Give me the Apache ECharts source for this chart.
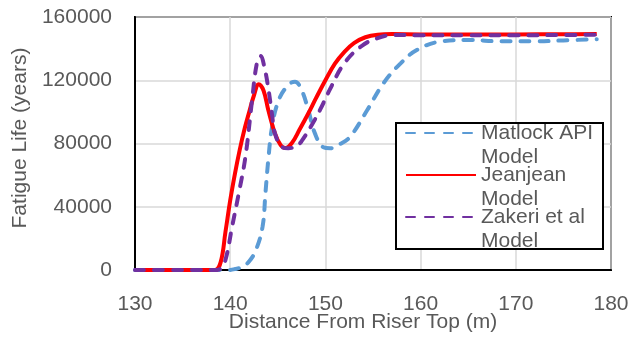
<!DOCTYPE html>
<html>
<head>
<meta charset="utf-8">
<script src="https://cdn.jsdelivr.net/npm/echarts@6/dist/echarts.min.js"></script>
<style>
    html, body { margin: 0; padding: 0; background: #fff; }
    #chart { width: 629px; height: 337px; }
</style>
</head>
<body>
<div id="chart"></div>
<script>
const xTicks = [130, 140, 150, 160, 170, 180];
const yTicks = [0, 40000, 80000, 120000, 160000];

const seriesNames = ['Matlock API Model', 'Jeanjean Model', 'Zakeri et al Model'];

const matlockX = [130, 135, 139.8, 140.5, 141.3, 142.0, 142.7, 143.4, 143.7, 144.0, 144.4, 145.1, 146.1, 146.8, 147.5, 148.2, 148.9, 149.8, 150.5, 151.5, 152.6, 154.4, 156.1, 157.9, 159.6, 162.0, 165.0, 168.5, 172.0, 175.0, 178.5];
const matlockY = [0, 0, 0, 600, 2100, 5500, 12600, 27400, 48500, 69600, 90600, 107500, 117000, 119100, 113800, 101200, 86400, 77600, 77000, 79500, 84300, 101200, 118100, 130700, 139100, 144400, 145500, 144600, 144600, 145200, 146000];

const jeanjeanX = [130, 135, 138.4, 139.0, 139.5, 140.0, 140.5, 141.0, 141.5, 142.0, 142.5, 143.0, 143.5, 144.0, 144.7, 145.3, 145.8, 146.5, 147.3, 148.2, 149.0, 150.0, 151.0, 152.0, 153.0, 154.2, 155.5, 157.0, 160, 165, 170, 175, 178.5];
const jeanjeanY = [0, 0, 0, 5000, 24000, 44000, 61000, 76000, 89000, 100000, 110500, 117500, 113500, 101200, 86400, 79000, 77200, 80500, 89000, 99000, 108500, 120000, 130500, 138000, 143500, 147200, 148800, 149200, 149000, 149000, 149000, 149100, 149200];

const zakeriX = [130, 135, 138.6, 139.0, 139.5, 140.2, 140.9, 141.6, 142.3, 142.8, 143.2, 143.6, 144.0, 144.4, 144.7, 145.4, 146.1, 147.0, 147.5, 148.6, 149.5, 150.5, 151.9, 153.7, 155.4, 157.2, 160, 165, 170, 175, 178.5];
const zakeriY = [0, 0, 0, 1000, 6300, 27400, 48500, 71600, 107500, 130700, 135300, 128000, 115000, 98000, 86400, 78000, 77000, 78500, 81500, 92000, 102000, 114500, 130000, 141200, 146500, 148600, 148500, 148500, 148500, 148600, 148800];

const pairs = (xs, ys) => xs.map((x, i) => [x, ys[i]]);

const textColor = '#595959';
const fontFamily = '"Liberation Sans", Arial, sans-serif';

const chart = echarts.init(document.getElementById('chart'));

const dashed = (color) => ({
    color: color,
    width: 4,
    type: [9, 10],
    cap: 'round',
});

chart.setOption({
    animation: false,
    textStyle: {
        fontFamily: fontFamily,
        color: textColor,
    },
    grid: {
        left: 135,
        right: 18,
        top: 17,
        bottom: 67,
        outerBoundsMode: 'none',
        containLabel: false,
        show: true,
        borderColor: '#000',
        borderWidth: 2,
    },
    graphic: [{
        type: 'rect',
        z: 3,
        shape: { x: 396, y: 123, width: 207, height: 126 },
        style: { fill: '#fff', stroke: '#000', lineWidth: 2 },
    }],
    legend: {
        orient: 'vertical',
        left: 405,
        top: 97,
        padding: 0,
        itemGap: -30,
        itemWidth: 70,
        itemHeight: 1,
        itemStyle: { opacity: 0 },
        selectedMode: false,
        data: seriesNames,
        formatter: (name) => '\n' + name.replace(/ Model$/, '\nModel'),
        textStyle: {
            fontFamily: fontFamily,
            fontSize: 21,
            color: textColor,
            lineHeight: 24,
        },
    },
    xAxis: {
        type: 'value',
        min: xTicks[0],
        max: xTicks[xTicks.length - 1],
        interval: xTicks[1] - xTicks[0],
        name: 'Distance From Riser Top (m)',
        nameLocation: 'middle',
        nameGap: 42,
        nameMoveOverlap: false,
        nameTextStyle: {
            fontSize: 21,
            color: textColor,
            fontFamily: fontFamily,
            padding: [0, 20, 0, 0],
        },
        axisLine: { lineStyle: { color: '#000', width: 2 } },
        axisTick: { show: false },
        axisLabel: {
            fontSize: 21,
            color: textColor,
            margin: 24,
        },
        splitLine: { lineStyle: { color: '#d9d9d9', width: 1.5 } },
    },
    yAxis: {
        type: 'value',
        min: yTicks[0],
        max: yTicks[yTicks.length - 1],
        interval: yTicks[1] - yTicks[0],
        name: 'Fatigue Life (years)',
        nameLocation: 'middle',
        nameGap: 104,
        nameMoveOverlap: false,
        nameTextStyle: {
            fontSize: 21,
            color: textColor,
            fontFamily: fontFamily,
            padding: [0, 0, 0, 11],
        },
        axisLine: { show: true, lineStyle: { color: '#000', width: 2 } },
        axisTick: { show: false },
        axisLabel: {
            fontSize: 21,
            color: textColor,
            margin: 23,
            formatter: (v) => String(v),
        },
        splitLine: { lineStyle: { color: '#d9d9d9', width: 1.5 } },
    },
    series: [
        {
            name: seriesNames[0],
            type: 'line',
            data: pairs(matlockX, matlockY),
            smooth: 0.4,
            showSymbol: false,
            symbol: 'none',
            lineStyle: dashed('#5b9bd5'),
            itemStyle: { color: '#5b9bd5' },
            z: 2,
        },
        {
            name: seriesNames[1],
            type: 'line',
            data: pairs(jeanjeanX, jeanjeanY),
            smooth: 0.4,
            showSymbol: false,
            symbol: 'none',
            lineStyle: { color: '#ff0000', width: 4 },
            itemStyle: { color: '#ff0000' },
            z: 3,
        },
        {
            name: seriesNames[2],
            type: 'line',
            data: pairs(zakeriX, zakeriY),
            smooth: 0.4,
            showSymbol: false,
            symbol: 'none',
            lineStyle: dashed('#7030a0'),
            itemStyle: { color: '#7030a0' },
            z: 4,
        },
    ],
});
</script>
</body>
</html>
